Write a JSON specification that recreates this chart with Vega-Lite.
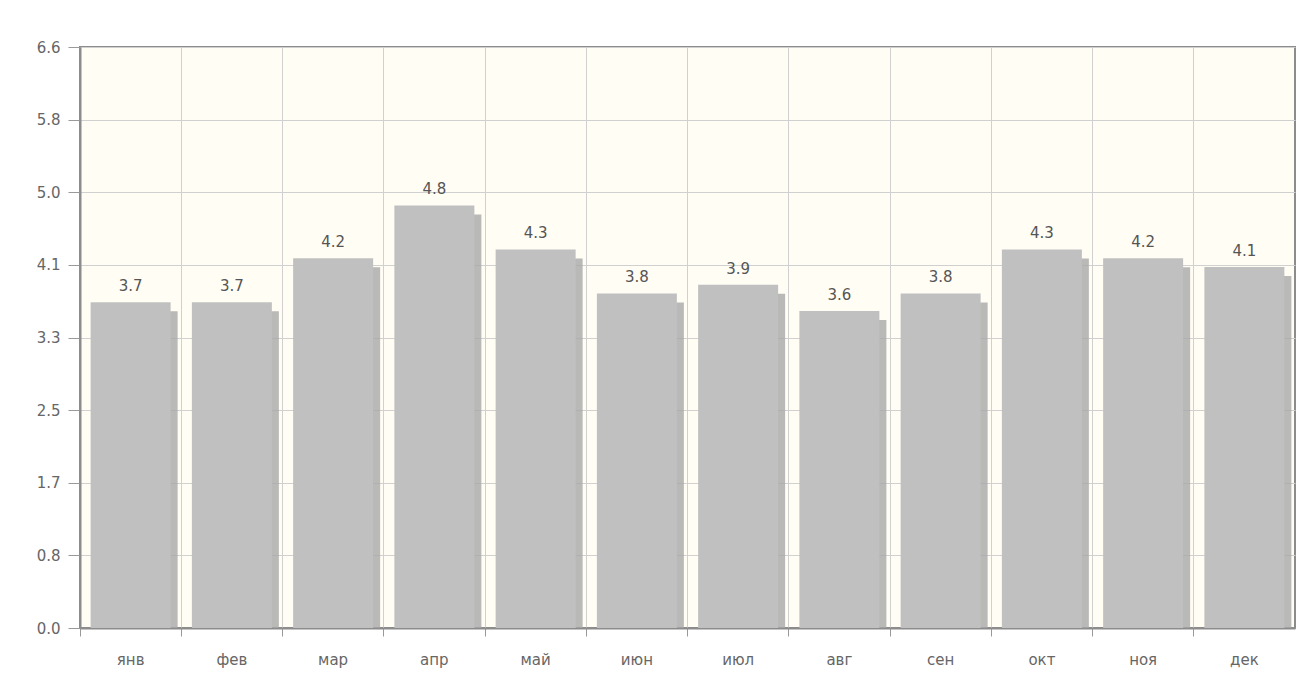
{
  "$schema": "https://vega.github.io/schema/vega-lite/v6.json",
  "width": 1215,
  "height": 581,
  "autosize": {"type": "none"},
  "padding": {"left": 80, "top": 47, "right": 11, "bottom": 47},
  "background": "white",
  "config": {
    "view": {"fill": "#fffdf4", "stroke": "#8c8c8c", "strokeWidth": 2},
    "font": "DejaVu Sans"
  },
  "data": {
    "values": [
      {"month": "янв", "value": 3.7},
      {"month": "фев", "value": 3.7},
      {"month": "мар", "value": 4.2},
      {"month": "апр", "value": 4.8},
      {"month": "май", "value": 4.3},
      {"month": "июн", "value": 3.8},
      {"month": "июл", "value": 3.9},
      {"month": "авг", "value": 3.6},
      {"month": "сен", "value": 3.8},
      {"month": "окт", "value": 4.3},
      {"month": "ноя", "value": 4.2},
      {"month": "дек", "value": 4.1}
    ]
  },
  "encoding": {
    "x": {
      "field": "month",
      "type": "nominal",
      "sort": null,
      "scale": {"paddingInner": 0, "paddingOuter": 0},
      "axis": {
        "title": null,
        "bandPosition": 0,
        "labelAngle": 0,
        "labelFontSize": 15,
        "labelColor": "#666666",
        "labelPadding": 16,
        "tickSize": 8,
        "tickColor": "#999999",
        "domainColor": "#8c8c8c",
        "domainWidth": 2,
        "grid": true,
        "gridColor": "#d0d0d0",
        "gridWidth": 1
      }
    },
    "y": {
      "field": "value",
      "type": "quantitative",
      "scale": {"domain": [0, 6.6], "nice": false},
      "axis": {
        "title": null,
        "values": [0, 0.825, 1.6501, 2.475, 3.3, 4.125, 4.95, 5.775, 6.6],
        "format": ".1f",
        "labelFontSize": 15,
        "labelColor": "#666666",
        "labelPadding": 8,
        "tickSize": 12,
        "tickColor": "#999999",
        "domainColor": "#8c8c8c",
        "domainWidth": 2,
        "grid": true,
        "gridColor": "#d0d0d0",
        "gridWidth": 1
      }
    }
  },
  "layer": [
    {
      "mark": {"type": "bar", "color": "#a8a8a8", "width": 80, "xOffset": 7, "yOffset": 9, "clip": true, "opacity": 0.8},
      "encoding": {}
    },
    {
      "mark": {"type": "bar", "color": "#c0c0c0", "width": 80},
      "encoding": {}
    },
    {
      "mark": {"type": "text", "dy": -16, "fontSize": 15, "color": "#555555"},
      "encoding": {"text": {"field": "value", "type": "quantitative", "format": ".1f"}}
    }
  ]
}
